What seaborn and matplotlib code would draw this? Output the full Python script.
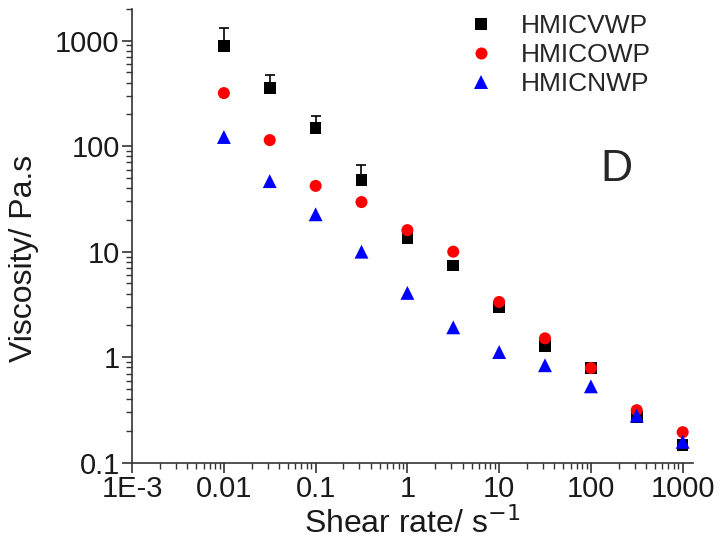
import numpy as np
import pandas as pd
import seaborn as sns
import matplotlib.pyplot as plt
from matplotlib.ticker import LogLocator, FixedLocator, FixedFormatter

# shear rate (1/s)
shear = [0.01, 0.0316, 0.1, 0.316, 1, 3.16, 10, 31.6, 100, 316, 1000]

# viscosity (Pa.s)
hmicvwp = [887, 355, 148, 47.6, 13.4, 7.4, 3.0, 1.27, 0.79, 0.27, 0.147]
hmicvwp_err = [430, 116, 44, 18.5, 0, 0, 0, 0, 0, 0, 0]
hmicowp = [318, 114, 42, 29.5, 16, 10, 3.34, 1.51, 0.79, 0.315, 0.195]
hmicnwp = [122, 46.6, 22.6, 10, 4.07, 1.92, 1.12, 0.84, 0.53, 0.28, 0.158]

names = ['HMICVWP', 'HMICOWP', 'HMICNWP']

df = pd.DataFrame({
    'Shear rate': shear * 3,
    'Viscosity': hmicvwp + hmicowp + hmicnwp,
    'Sample': [n for n in names for _ in shear],
})

sns.set_style('ticks')
plt.rcParams['font.family'] = ['Liberation Sans', 'DejaVu Sans']

fig, ax = plt.subplots(figsize=(7.22, 5.49), dpi=100)
fig.subplots_adjust(left=0.183, right=0.96, bottom=0.157, top=0.984)

# upward-only error bars on the black squares
ax.errorbar(shear, hmicvwp, yerr=[np.zeros(len(shear)), hmicvwp_err], fmt='none',
            ecolor='black', elinewidth=1.2, capsize=3.6, capthick=1.2, zorder=1)

sns.scatterplot(data=df, x='Shear rate', y='Viscosity', hue='Sample', style='Sample',
                size='Sample',
                palette={'HMICVWP': 'black', 'HMICOWP': 'red', 'HMICNWP': 'blue'},
                markers={'HMICVWP': 's', 'HMICOWP': 'o', 'HMICNWP': '^'},
                sizes={'HMICVWP': 70, 'HMICOWP': 75, 'HMICNWP': 100},
                linewidth=0, ax=ax, zorder=2)

ax.set_xscale('log')
ax.set_yscale('log')
ax.set_xlim(1e-3, 1300)
ax.set_ylim(0.1, 2000)

xt = [1e-3, 0.01, 0.1, 1, 10, 100, 1000]
ax.xaxis.set_major_locator(FixedLocator(xt))
ax.xaxis.set_major_formatter(FixedFormatter(['1E-3', '0.01', '0.1', '1', '10', '100', '1000']))
yt = [0.1, 1, 10, 100, 1000]
ax.yaxis.set_major_locator(FixedLocator(yt))
ax.yaxis.set_major_formatter(FixedFormatter(['0.1', '1', '10', '100', '1000']))
ax.xaxis.set_minor_locator(LogLocator(base=10, subs=np.arange(2, 10), numticks=20))
ax.yaxis.set_minor_locator(LogLocator(base=10, subs=np.arange(2, 10), numticks=20))

ax.tick_params(which='major', direction='out', length=7, width=1.2, labelsize=21,
               colors='#333333', labelcolor='#1a1a1a', pad=2)
ax.tick_params(which='minor', direction='out', length=4, width=1.0, colors='#333333')
for side in ['top', 'right']:
    ax.spines[side].set_visible(False)
for side in ['left', 'bottom']:
    ax.spines[side].set_linewidth(1.2)
    ax.spines[side].set_color('#333333')

ax.set_xlabel('Shear rate/ s$^{-1}$', fontsize=23, color='#1a1a1a', labelpad=3)
ax.set_ylabel('Viscosity/ Pa.s', fontsize=23, color='#1a1a1a')
ax.yaxis.set_label_coords(-0.166, 0.45)

ax.text(0.863, 0.645, 'D', transform=ax.transAxes, fontsize=32, ha='center', va='center')

ax.legend(title=None, frameon=False, fontsize=19, loc='upper left',
          bbox_to_anchor=(0.556, 1.012), handletextpad=0.5, labelspacing=0.2,
          markerscale=1.0, borderaxespad=0)

plt.savefig('out.png', dpi=100)
